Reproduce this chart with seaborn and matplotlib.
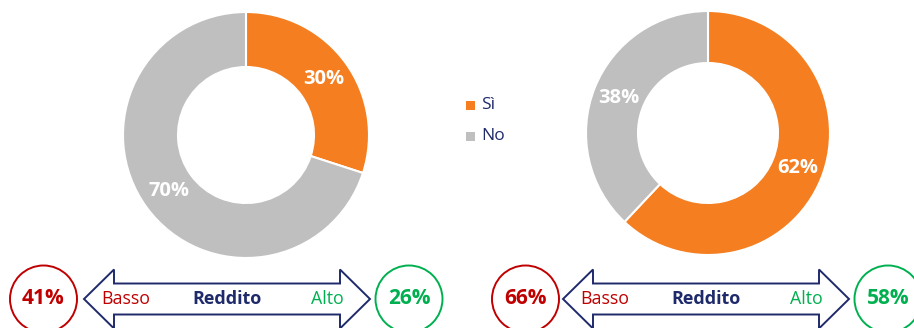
import matplotlib
matplotlib.use("Agg")
import matplotlib.pyplot as plt
from matplotlib.patches import Circle, Polygon
import numpy as np
import seaborn as sns

sns.set_theme(style="white")
plt.rcParams["font.family"] = ["Open Sans", "DejaVu Sans"]

# Data
categories = ["Sì", "No"]
share_left = [30, 70]
share_right = [62, 38]
low_income = [41, 66]
high_income = [26, 58]
axis_label = "Reddito"
low_label = "Basso"
high_label = "Alto"

ORANGE = "#F47E20"
GREY = "#BFBFBF"
RED = "#C00000"
GREEN = "#00B050"
NAVY = "#1F2A6B"
palette = sns.color_palette([ORANGE, GREY])

W, H = 914, 328
fig = plt.figure(figsize=(W / 100, H / 100), dpi=100)
ax = fig.add_axes([0, 0, 1, 1])
ax.set_xlim(0, W)
ax.set_ylim(0, H)
ax.set_aspect("equal")
ax.axis("off")


def Y(y):
    return H - y


def donut(values, cx, cy, r_out, r_in):
    ax.pie(values, colors=palette, startangle=90, counterclock=False,
           center=(cx, Y(cy)), radius=r_out, frame=True,
           wedgeprops=dict(width=r_out - r_in, edgecolor="white", linewidth=1.5))
    total = sum(values)
    start = 90.0
    r_mid = (r_out + r_in) / 2
    for v in values:
        mid = np.deg2rad(start - 360 * v / total / 2)
        ax.text(cx + r_mid * np.cos(mid), Y(cy) + r_mid * np.sin(mid), f"{v}%",
                ha="center", va="center", color="white", fontsize=14.5, fontweight="bold")
        start -= 360 * v / total


def income_row(x_left_circle, x_right_circle, tip_l, neck_l, neck_r, tip_r, lo, hi, cy=299):
    r = 33.5
    ax.add_patch(Circle((x_left_circle, Y(cy)), r, fill=False, edgecolor=RED, linewidth=1.4))
    ax.add_patch(Circle((x_right_circle, Y(cy)), r, fill=False, edgecolor=GREEN, linewidth=1.4))
    ax.text(x_left_circle, Y(cy), f"{lo}%", ha="center", va="center",
            color=RED, fontsize=15, fontweight="bold")
    ax.text(x_right_circle, Y(cy), f"{hi}%", ha="center", va="center",
            color=GREEN, fontsize=15, fontweight="bold")
    bh, hh = 15.5, 29.5
    pts = [(tip_l, cy), (neck_l, cy - hh), (neck_l, cy - bh), (neck_r, cy - bh),
           (neck_r, cy - hh), (tip_r, cy), (neck_r, cy + hh), (neck_r, cy + bh),
           (neck_l, cy + bh), (neck_l, cy + hh)]
    ax.add_patch(Polygon([(x, Y(y)) for x, y in pts], closed=True, facecolor="white",
                         edgecolor=NAVY, linewidth=1.4))
    mid = (tip_l + tip_r) / 2
    ax.text(neck_l + 12, Y(cy), low_label, ha="center", va="center", color=RED, fontsize=12.8)
    ax.text(mid, Y(cy), axis_label, ha="center", va="center", color=NAVY,
            fontsize=13, fontweight="bold")
    ax.text(neck_r - 13, Y(cy), high_label, ha="center", va="center", color=GREEN, fontsize=12.8)


donut(share_left, 246, 135, 123, 68)
donut(share_right, 708, 133, 122, 70)

# legend
for i, (lab, col) in enumerate(zip(categories, palette)):
    yy = 105 + 31 * i
    ax.add_patch(plt.Rectangle((466, Y(yy) - 4.5), 9, 9, facecolor=col, edgecolor="none"))
    ax.text(481, Y(yy), lab, ha="left", va="center", color=NAVY, fontsize=12.5)

income_row(43.5, 409, 84, 114, 340, 370, low_income[0], high_income[0])
income_row(525.5, 888, 563, 593, 819, 849, low_income[1], high_income[1])

ax.set_xlim(0, W)
ax.set_ylim(0, H)
fig.savefig("out.png", dpi=100)
